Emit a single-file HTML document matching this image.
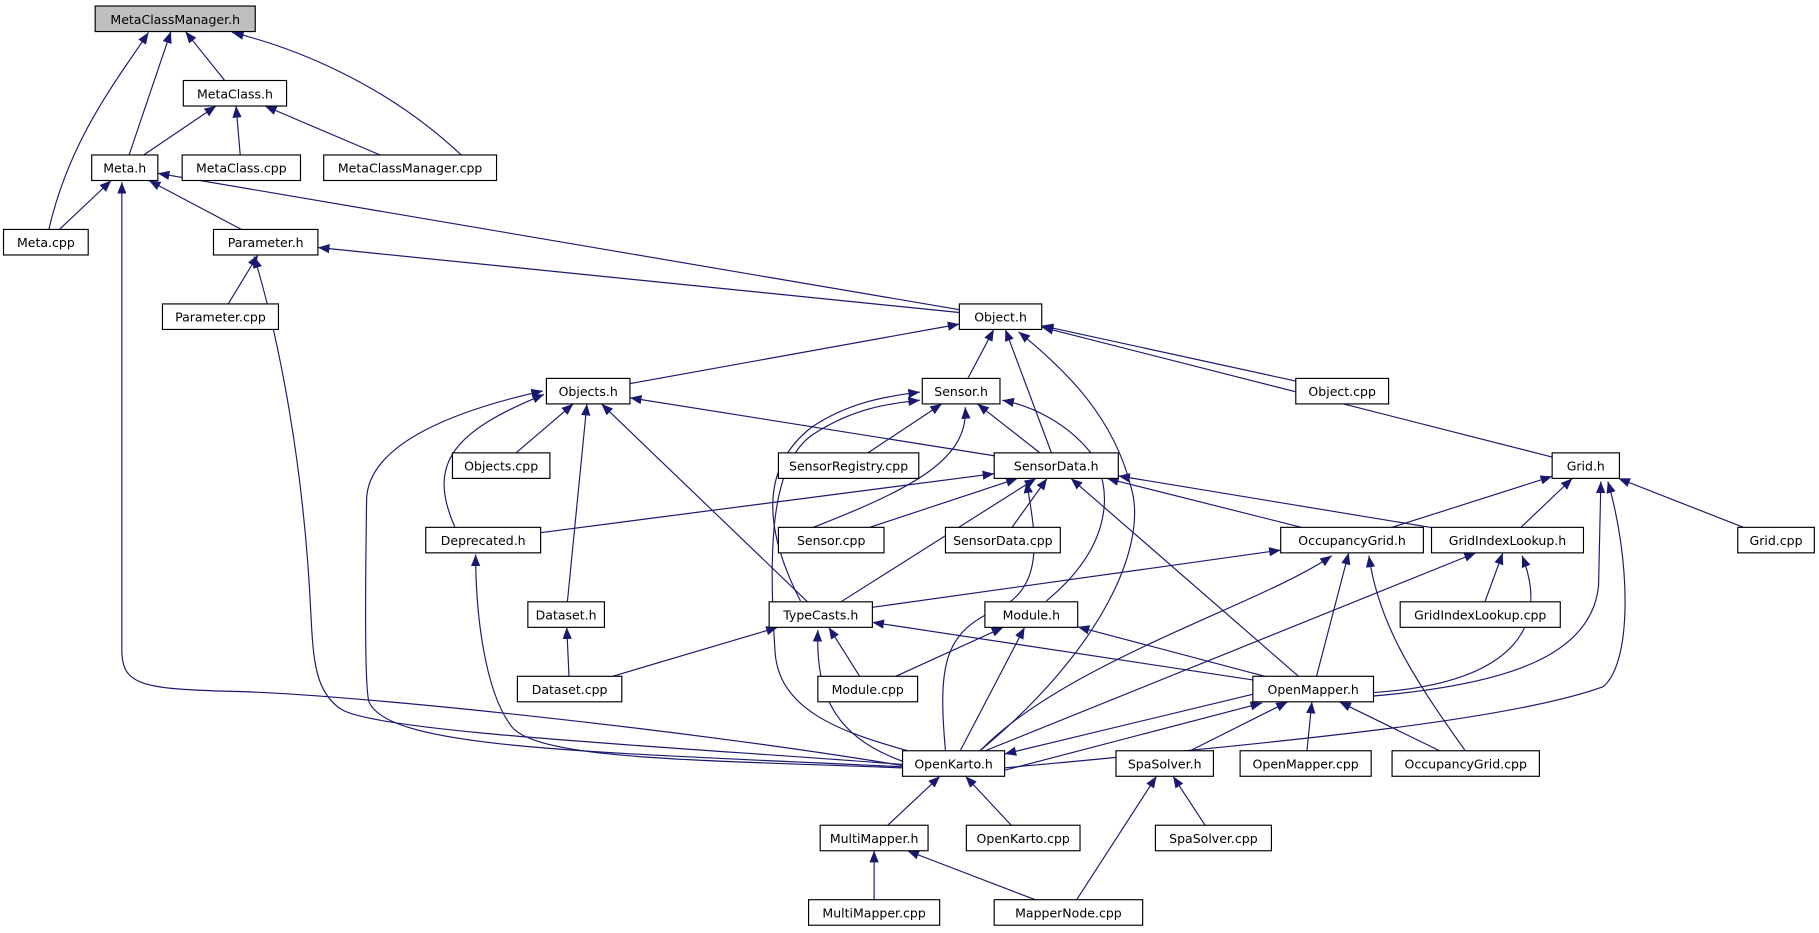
<!DOCTYPE html>
<html><head><meta charset="utf-8"><style>
html,body{margin:0;padding:0;background:#fff;}
svg{display:block;}
text{font-family:"DejaVu Sans","Liberation Sans",sans-serif;font-size:10.8px;fill:#000;}
</style></head><body>
<svg id="g" width="1819" height="933" viewBox="0 0 1568 804.3" xmlns="http://www.w3.org/2000/svg">
<defs><marker id="a" markerUnits="userSpaceOnUse" markerWidth="11" markerHeight="9" refX="10" refY="4" orient="auto"><path d="M0,0 L10,4 L0,8 z" fill="#191970"/></marker></defs>
<g id="edges" fill="none" stroke="#191970" stroke-width="1"></g>
<g id="nodes" stroke="#000" stroke-width="1">
<rect x="82" y="5.2" width="138" height="22" fill="#bfbfbf"/><text x="151" y="20.5" text-anchor="middle" stroke="none">MetaClassManager.h</text>
<rect x="158" y="69.4" width="89" height="22" fill="#fff"/><text x="202.5" y="84.7" text-anchor="middle" stroke="none">MetaClass.h</text>
<rect x="79" y="133.6" width="57" height="22" fill="#fff"/><text x="107.5" y="148.9" text-anchor="middle" stroke="none">Meta.h</text>
<rect x="157" y="133.6" width="102" height="22" fill="#fff"/><text x="208" y="148.9" text-anchor="middle" stroke="none">MetaClass.cpp</text>
<rect x="279" y="133.6" width="149" height="22" fill="#fff"/><text x="353.5" y="148.9" text-anchor="middle" stroke="none">MetaClassManager.cpp</text>
<rect x="3" y="197.8" width="73" height="22" fill="#fff"/><text x="39.5" y="213.1" text-anchor="middle" stroke="none">Meta.cpp</text>
<rect x="184" y="197.8" width="90" height="22" fill="#fff"/><text x="229" y="213.1" text-anchor="middle" stroke="none">Parameter.h</text>
<rect x="140" y="262" width="100" height="22" fill="#fff"/><text x="190" y="277.3" text-anchor="middle" stroke="none">Parameter.cpp</text>
<rect x="827" y="262" width="71" height="22" fill="#fff"/><text x="862.5" y="277.3" text-anchor="middle" stroke="none">Object.h</text>
<rect x="471" y="326.2" width="72" height="22" fill="#fff"/><text x="507" y="341.5" text-anchor="middle" stroke="none">Objects.h</text>
<rect x="795" y="326.2" width="67" height="22" fill="#fff"/><text x="828.5" y="341.5" text-anchor="middle" stroke="none">Sensor.h</text>
<rect x="1117" y="326.2" width="80" height="22" fill="#fff"/><text x="1157" y="341.5" text-anchor="middle" stroke="none">Object.cpp</text>
<rect x="390" y="390.4" width="84" height="22" fill="#fff"/><text x="432" y="405.7" text-anchor="middle" stroke="none">Objects.cpp</text>
<rect x="671" y="390.4" width="121" height="22" fill="#fff"/><text x="731.5" y="405.7" text-anchor="middle" stroke="none">SensorRegistry.cpp</text>
<rect x="857" y="390.4" width="107" height="22" fill="#fff"/><text x="910.5" y="405.7" text-anchor="middle" stroke="none">SensorData.h</text>
<rect x="1338" y="390.4" width="58" height="22" fill="#fff"/><text x="1367" y="405.7" text-anchor="middle" stroke="none">Grid.h</text>
<rect x="367" y="454.6" width="99" height="22" fill="#fff"/><text x="416.5" y="469.9" text-anchor="middle" stroke="none">Deprecated.h</text>
<rect x="671" y="454.6" width="91" height="22" fill="#fff"/><text x="716.5" y="469.9" text-anchor="middle" stroke="none">Sensor.cpp</text>
<rect x="815" y="454.6" width="99" height="22" fill="#fff"/><text x="864.5" y="469.9" text-anchor="middle" stroke="none">SensorData.cpp</text>
<rect x="1104" y="454.6" width="123" height="22" fill="#fff"/><text x="1165.5" y="469.9" text-anchor="middle" stroke="none">OccupancyGrid.h</text>
<rect x="1234" y="454.6" width="131" height="22" fill="#fff"/><text x="1299.5" y="469.9" text-anchor="middle" stroke="none">GridIndexLookup.h</text>
<rect x="1498" y="454.6" width="66" height="22" fill="#fff"/><text x="1531" y="469.9" text-anchor="middle" stroke="none">Grid.cpp</text>
<rect x="455" y="518.8" width="66" height="22" fill="#fff"/><text x="488" y="534.1" text-anchor="middle" stroke="none">Dataset.h</text>
<rect x="663" y="518.8" width="89" height="22" fill="#fff"/><text x="707.5" y="534.1" text-anchor="middle" stroke="none">TypeCasts.h</text>
<rect x="849" y="518.8" width="80" height="22" fill="#fff"/><text x="889" y="534.1" text-anchor="middle" stroke="none">Module.h</text>
<rect x="1207" y="518.8" width="138" height="22" fill="#fff"/><text x="1276" y="534.1" text-anchor="middle" stroke="none">GridIndexLookup.cpp</text>
<rect x="446" y="583" width="90" height="22" fill="#fff"/><text x="491" y="598.3" text-anchor="middle" stroke="none">Dataset.cpp</text>
<rect x="705" y="583" width="86" height="22" fill="#fff"/><text x="748" y="598.3" text-anchor="middle" stroke="none">Module.cpp</text>
<rect x="1080" y="583" width="104" height="22" fill="#fff"/><text x="1132" y="598.3" text-anchor="middle" stroke="none">OpenMapper.h</text>
<rect x="778" y="647.2" width="88" height="22" fill="#fff"/><text x="822" y="662.5" text-anchor="middle" stroke="none">OpenKarto.h</text>
<rect x="962" y="647.2" width="84" height="22" fill="#fff"/><text x="1004" y="662.5" text-anchor="middle" stroke="none">SpaSolver.h</text>
<rect x="1069" y="647.2" width="113" height="22" fill="#fff"/><text x="1125.5" y="662.5" text-anchor="middle" stroke="none">OpenMapper.cpp</text>
<rect x="1200" y="647.2" width="127" height="22" fill="#fff"/><text x="1263.5" y="662.5" text-anchor="middle" stroke="none">OccupancyGrid.cpp</text>
<rect x="707" y="711.4" width="93" height="22" fill="#fff"/><text x="753.5" y="726.7" text-anchor="middle" stroke="none">MultiMapper.h</text>
<rect x="833" y="711.4" width="98" height="22" fill="#fff"/><text x="882" y="726.7" text-anchor="middle" stroke="none">OpenKarto.cpp</text>
<rect x="996" y="711.4" width="100" height="22" fill="#fff"/><text x="1046" y="726.7" text-anchor="middle" stroke="none">SpaSolver.cpp</text>
<rect x="697" y="775.6" width="113" height="22" fill="#fff"/><text x="753.5" y="790.9" text-anchor="middle" stroke="none">MultiMapper.cpp</text>
<rect x="857" y="775.6" width="128" height="22" fill="#fff"/><text x="921" y="790.9" text-anchor="middle" stroke="none">MapperNode.cpp</text>
</g>
</svg>
<script>
var N={};
document.querySelectorAll('#nodes rect').forEach(function(r){
  var t=r.nextElementSibling.textContent;
  N[t]={x:+r.getAttribute('x'),y:+r.getAttribute('y'),w:+r.getAttribute('width'),h:22};
});
function clip(b,px,py,qx,qy){ // point on box b boundary along line from center b to (qx,qy)
  var cx=b.x+b.w/2,cy=b.y+b.h/2,dx=qx-cx,dy=qy-cy;
  var sx=dx?(b.w/2)/Math.abs(dx):1e9, sy=dy?(b.h/2)/Math.abs(dy):1e9, s=Math.min(sx,sy);
  return [cx+dx*s,cy+dy*s];
}
var straight=[
["MetaClass.h","MetaClassManager.h"],["Meta.h","MetaClassManager.h"],
["Meta.h","MetaClass.h"],["MetaClass.cpp","MetaClass.h"],["MetaClassManager.cpp","MetaClass.h"],
["Meta.cpp","Meta.h"],["Parameter.h","Meta.h"],["Object.h","Meta.h"],
["Parameter.cpp","Parameter.h"],["Object.h","Parameter.h"],
["Objects.h","Object.h"],["Sensor.h","Object.h"],["SensorData.h","Object.h"],["Object.cpp","Object.h"],["Grid.h","Object.h"],
["Objects.cpp","Objects.h"],["Dataset.h","Objects.h"],["TypeCasts.h","Objects.h"],["SensorData.h","Objects.h"],
["SensorRegistry.cpp","Sensor.h"],["SensorData.h","Sensor.h"],
["Deprecated.h","SensorData.h"],["Sensor.cpp","SensorData.h"],["SensorData.cpp","SensorData.h"],["TypeCasts.h","SensorData.h"],
["OpenMapper.h","SensorData.h"],["OccupancyGrid.h","SensorData.h"],["GridIndexLookup.h","SensorData.h"],
["OccupancyGrid.h","Grid.h"],["GridIndexLookup.h","Grid.h"],["Grid.cpp","Grid.h"],
["Dataset.cpp","Dataset.h"],["TypeCasts.h","OccupancyGrid.h"],["OpenMapper.h","OccupancyGrid.h"],
["GridIndexLookup.cpp","GridIndexLookup.h"],["OpenKarto.h","GridIndexLookup.h"],
["Dataset.cpp","TypeCasts.h"],["Module.cpp","TypeCasts.h"],["OpenMapper.h","TypeCasts.h"],
["Module.cpp","Module.h"],["OpenKarto.h","Module.h"],["OpenMapper.h","Module.h"],
["SpaSolver.h","OpenMapper.h"],["OpenMapper.cpp","OpenMapper.h"],["OccupancyGrid.cpp","OpenMapper.h"],
["MultiMapper.h","OpenKarto.h"],["OpenKarto.cpp","OpenKarto.h"],
["MultiMapper.cpp","MultiMapper.h"],["MapperNode.cpp","MultiMapper.h"],
["SpaSolver.cpp","SpaSolver.h"],["MapperNode.cpp","SpaSolver.h"]
];
var paths=[
"M42,198 C60,120 100,70 128,28",
"M398,134 C330,70 250,40 200,28",
"M778,660 C600,630 300,598 200,596 C120,594 105,590 105,560 L105,157",
"M778,659 C600,645 330,632 295,612 C272,598 270,570 268,530 C262,400 240,290 219,221",
"M778,661 C500,648 335,645 318,605 C314,590 315,500 316,430 C318,380 400,352 468,337",
"M392,454 C368,400 390,372 469,340",
"M778,662 C600,655 460,655 440,625 C418,595 410,530 410,478",
"M782,647 C720,630 670,610 668,560 C662,470 665,400 700,375 C735,352 765,348 793,345",
"M690,518 C650,440 665,395 700,368 C730,348 760,342 793,338",
"M700,455 C790,420 835,395 832,351",
"M902,518 C960,470 960,420 940,390 C920,365 890,350 864,345",
"M845,647 C950,560 990,470 975,420 C960,360 920,320 878,286",
"M815,647 C808,570 815,545 860,525 C905,505 890,450 885,415",
"M866,662 C1100,640 1300,622 1382,592 C1408,570 1405,480 1386,415",
"M1184,600 C1300,590 1372,565 1378,505 L1380,415",
"M1184,597 C1290,590 1340,550 1312,479",
"M1263,647 C1215,580 1188,535 1180,479",
"M845,647 C920,570 1090,520 1148,479",
"M790,660 C720,640 703,600 705,543",
"M1082,598 L866,650",
"M866,664 L1088,606"
];
var g=document.getElementById('edges'),ns='http://www.w3.org/2000/svg';
function add(d){var p=document.createElementNS(ns,'path');p.setAttribute('d',d);p.setAttribute('marker-end','url(#a)');g.appendChild(p);}
straight.forEach(function(e){
  var c=N[e[0]],p=N[e[1]];if(!c||!p)return;
  var ccx=c.x+c.w/2,ccy=c.y+11,pcx=p.x+p.w/2,pcy=p.y+11;
  var a=clip(c,0,0,pcx,pcy),b=clip(p,0,0,ccx,ccy);
  add('M'+a[0]+','+a[1]+' L'+b[0]+','+b[1]);
});
paths.forEach(add);
</script>
</body></html>
